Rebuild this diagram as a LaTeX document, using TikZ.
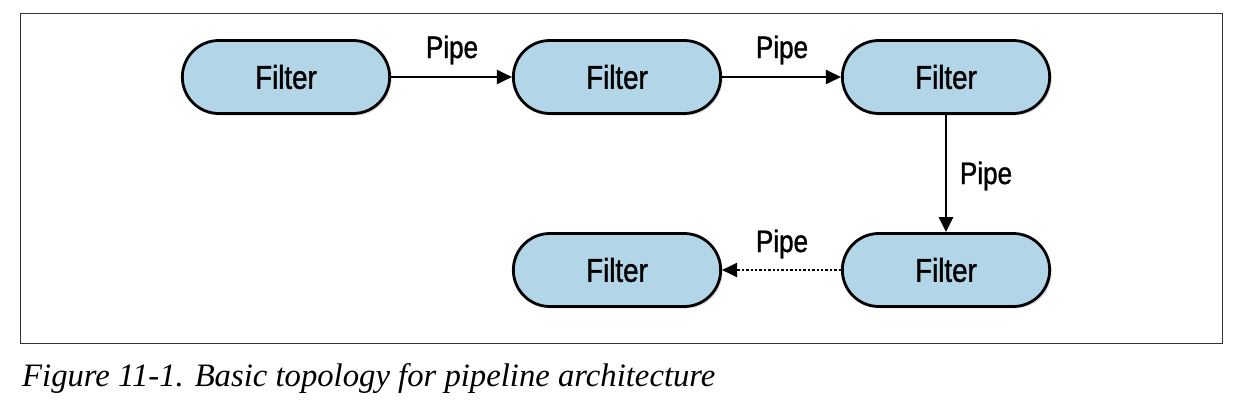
\documentclass[tikz,border=0pt]{standalone}
\usepackage{fontspec}
\setmainfont{Liberation Serif}
\newfontfamily\condsans[FakeStretch=0.84,FakeBold=1.2]{Liberation Sans}
\usetikzlibrary{arrows.meta,shadows,shapes.misc}
\definecolor{filterblue}{HTML}{B3D5E8}
\tikzset{
  filterbox/.style={rounded rectangle, draw=black, line width=2.8pt, fill=filterblue,
    minimum width=214pt, minimum height=73pt, font=\condsans\fontsize{33}{33}\selectfont,
    drop shadow={shadow xshift=2pt, shadow yshift=-2pt, opacity=0.25}},
  pipe/.style={line width=2.4pt, -{Triangle[length=15pt,width=14pt]}},
  pipelabel/.style={font=\condsans\fontsize{31}{31}\selectfont, inner sep=0pt}
}
\begin{document}
\begin{tikzpicture}[x=1pt,y=-1pt]
\useasboundingbox (0,0) rectangle (1256,412);
\draw[line width=1pt, draw=black!80] (20,14) rectangle (1222,343);
\node[filterbox] (f1) at (286,77) {Filter};
\node[filterbox] (f2) at (617,77) {Filter};
\node[filterbox] (f3) at (946,77) {Filter};
\node[filterbox] (f4) at (617,270) {Filter};
\node[filterbox] (f5) at (946,270) {Filter};
\draw[pipe] (f1.east) -- (f2.west);
\draw[pipe] (f2.east) -- (f3.west);
\draw[pipe] (f3.south) -- (f5.north);
\draw[pipe, dotted] (f5.west) -- (f4.east);
\node[pipelabel] (p1) at (452,50) {Pipe};
\node[pipelabel] (p2) at (782,50) {Pipe};
\node[pipelabel] (p3) at (986,176) {Pipe};
\node[pipelabel] (p4) at (782,244) {Pipe};
\node[anchor=base west, inner sep=0pt, font=\itshape\fontsize{32.7}{33}\selectfont] (cap) at (22,386) {Figure 11-1. Basic topology for pipeline architecture};
\end{tikzpicture}
\end{document}
